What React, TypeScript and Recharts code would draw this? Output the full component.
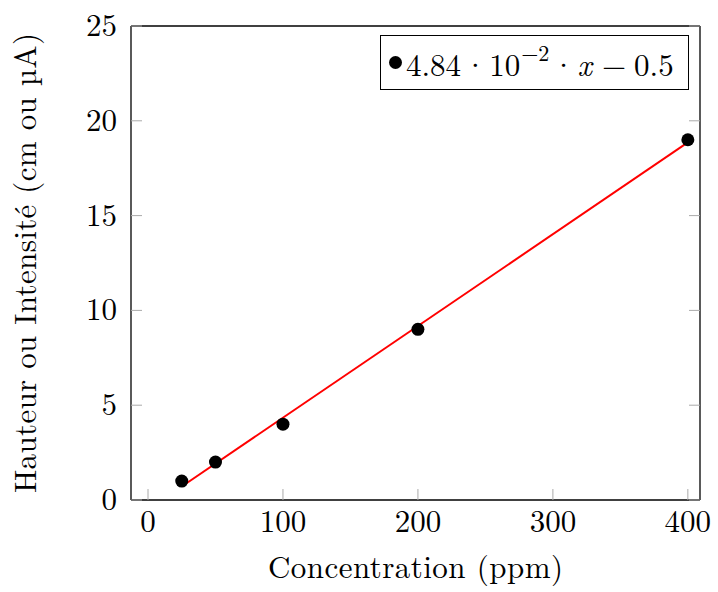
import React from 'react';
import { ComposedChart, Line, Scatter, XAxis, YAxis, Legend, Label } from 'recharts';

// measured points (ppm -> cm or µA)
const concentrations = [25, 50, 100, 200, 400];
const heights = [1, 2, 4, 9, 19];

// fitted line read at both ends: 4.84e-2 * x - 0.5
const fitX = [25, 400];
const fitY = [0.71, 18.86];

const xTicks = [0, 100, 200, 300, 400];
const yTicks = [0, 5, 10, 15, 20, 25];

const points = concentrations.map((x, i) => ({ x, y: heights[i] }));
const fit = fitX.map((x, i) => ({ x, y: fitY[i] }));

const FONT = "'Latin Modern Roman', 'Liberation Serif', serif";
const TICK_COLOR = '#aaaaaa';
const TICK_LEN = 11;

const BottomTick = (props: any) => {
  const { x, y, payload } = props;
  return (
    <g>
      <line x1={x} y1={y} x2={x} y2={y - TICK_LEN} stroke={TICK_COLOR} />
      <text x={x} y={y + 32} textAnchor="middle" fontFamily={FONT} fontSize={31} fill="#000">
        {payload.value}
      </text>
    </g>
  );
};

const TopTick = (props: any) => {
  const { x, y } = props;
  return <line x1={x} y1={y} x2={x} y2={y + TICK_LEN} stroke={TICK_COLOR} />;
};

const LeftTick = (props: any) => {
  const { x, y, payload } = props;
  return (
    <g>
      <line x1={x} y1={y} x2={x + TICK_LEN} y2={y} stroke={TICK_COLOR} />
      <text x={x - 14} y={y + 10} textAnchor="end" fontFamily={FONT} fontSize={31} fill="#000">
        {payload.value}
      </text>
    </g>
  );
};

const RightTick = (props: any) => {
  const { x, y } = props;
  return <line x1={x} y1={y} x2={x - TICK_LEN} y2={y} stroke={TICK_COLOR} />;
};

const Dot = (props: any) => <circle cx={props.cx} cy={props.cy} r={6.5} fill="#000" />;

const op = { display: 'inline-block', margin: '0 2px' };

const LegendBox = () => (
  <div
    style={{
      position: 'absolute',
      left: 380,
      top: 35,
      width: 309,
      height: 55,
      boxSizing: 'border-box',
      border: '1.3px solid #000',
      background: '#fff',
      fontFamily: FONT,
      fontSize: 31,
      color: '#000',
      display: 'flex',
      alignItems: 'center',
      whiteSpace: 'nowrap',
    }}
  >
    <span
      style={{
        display: 'inline-block',
        flexShrink: 0,
        width: 13,
        height: 13,
        borderRadius: '50%',
        background: '#000',
        marginLeft: 8,
        marginRight: 4,
      }}
    />
    <span style={{ flexShrink: 0 }}>
      4.84<span style={op}>·</span>10
      <sup style={{ fontSize: 22, lineHeight: 1, position: 'relative', top: -3, marginLeft: 1 }}>−2</sup>
      <span style={op}>·</span>
      <i>x</i>
      <span style={{ display: 'inline-block', margin: '0 8px 0 10px' }}>−</span>0.5
    </span>
  </div>
);

const App: React.FC = () => {
  return (
    <div style={{ position: 'absolute', left: 0, top: 0, background: '#fff' }}>
      <ComposedChart width={718} height={592} margin={{ top: 25, right: 17, bottom: 0, left: 0 }}>
        <XAxis
          dataKey="x"
          type="number"
          domain={[-12.6, 409]}
          ticks={xTicks}
          height={92}
          tickSize={0}
          tickMargin={0}
          tickLine={false}
          tick={<BottomTick />}
          axisLine={{ stroke: '#000', strokeWidth: 1.3 }}
          allowDataOverflow
        >
          <Label
            content={() => (
              <text
                x={415.5}
                y={578}
                textAnchor="middle"
                fontFamily={FONT}
                fontSize={31}
                textLength={295}
                lengthAdjust="spacing"
                fill="#000"
              >
                Concentration (ppm)
              </text>
            )}
          />
        </XAxis>
        <XAxis
          xAxisId="top"
          orientation="top"
          type="number"
          domain={[-12.6, 409]}
          ticks={xTicks}
          height={1}
          tickSize={0}
          tickMargin={0}
          tickLine={false}
          tick={<TopTick />}
          axisLine={{ stroke: '#000', strokeWidth: 1.3 }}
          allowDataOverflow
        />
        <YAxis
          type="number"
          domain={[0, 25]}
          ticks={yTicks}
          width={131}
          tickSize={0}
          tickMargin={0}
          tickLine={false}
          tick={<LeftTick />}
          axisLine={{ stroke: '#000', strokeWidth: 1.3 }}
          allowDataOverflow
        >
          <Label
            content={() => (
              <text
                transform="translate(36,263) rotate(-90)"
                textAnchor="middle"
                fontFamily={FONT}
                fontSize={31}
                textLength={460}
                lengthAdjust="spacing"
                fill="#000"
              >
                Hauteur ou Intensité (cm ou µA)
              </text>
            )}
          />
        </YAxis>
        <YAxis
          yAxisId="right"
          orientation="right"
          type="number"
          domain={[0, 25]}
          ticks={yTicks}
          width={1}
          tickSize={0}
          tickMargin={0}
          tickLine={false}
          tick={<RightTick />}
          axisLine={{ stroke: '#000', strokeWidth: 1.3 }}
          allowDataOverflow
        />
        <Line
          data={fit}
          dataKey="y"
          type="linear"
          stroke="#ff0000"
          strokeWidth={2}
          dot={false}
          activeDot={false}
          isAnimationActive={false}
        />
        <Scatter data={points} dataKey="y" fill="#000" shape={<Dot />} isAnimationActive={false} />
        <Legend content={() => <LegendBox />} wrapperStyle={{ left: 0, top: 0, width: 0, height: 0 }} />
      </ComposedChart>
    </div>
  );
};

export default App;
